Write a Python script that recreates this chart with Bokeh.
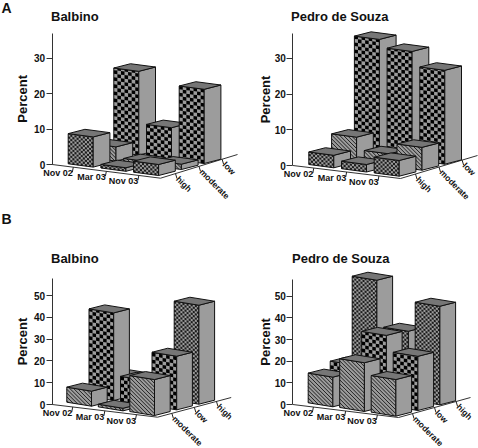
from bokeh.core.properties import value
from bokeh.embed import file_html
from bokeh.layouts import column, row
from bokeh.models import FixedTicker, LinearAxis, Range1d
from bokeh.plotting import figure
from bokeh.resources import INLINE

PERIODS = ["Nov 02", "Mar 03", "Nov 03"]
ROWS_A = ["high", "moderate", "low"]
ROWS_B = ["moderate", "low", "high"]

A_BALBINO_HIGH = [8.5, 1.0, 3.1]
A_BALBINO_MODERATE = [4.0, 1.0, 1.5]
A_BALBINO_LOW = [23.6, 8.9, 20.9]

A_PEDRO_HIGH = [3.5, 2.1, 4.4]
A_PEDRO_MODERATE = [6.9, 3.4, 6.4]
A_PEDRO_LOW = [32.6, 30.4, 26.3]

B_BALBINO_MODERATE = [6.9, 1.2, 16.5]
B_BALBINO_LOW = [40.2, 11.4, 24.6]
B_BALBINO_HIGH = [8.0, 0.0, 45.4]

B_PEDRO_MODERATE = [13.7, 22.5, 16.9]
B_PEDRO_LOW = [16.6, 32.5, 25.0]
B_PEDRO_HIGH = [53.2, 31.8, 45.5]

FONT = "Liberation Sans"
FACE = "#9c9c9c"
TOP = "#767676"
FINE_DARK = "#1c1c1c"


def panel(box, title, title_xy, letter, axis_x, y0, scale, ticks, y_top,
          corner, end, base, t_vec, s_vec, w_vec, d_vec, rows, values, pct_x):
    X0, Y0, W, H = box

    def val(y):
        return (y0 - y) / scale

    p = figure(width=W, height=H, output_backend="svg", toolbar_location=None,
               x_axis_type=None, y_axis_type=None,
               x_range=Range1d(X0, X0 + W), y_range=Range1d(val(Y0 + H), val(Y0)),
               min_border=0, outline_line_color=None)
    p.grid.visible = False

    axis = LinearAxis(ticker=FixedTicker(ticks=ticks), bounds=(0, y_top),
                      fixed_location=axis_x)
    axis.major_label_text_font = FONT
    axis.major_label_text_font_style = "bold"
    axis.major_label_text_font_size = "10px"
    axis.major_label_text_color = "#111111"
    axis.major_tick_out = 6
    axis.major_tick_in = 0
    axis.minor_tick_out = 0
    axis.minor_tick_in = 0
    axis.major_label_standoff = 1
    axis.axis_line_color = "#333333"
    axis.major_tick_line_color = "#333333"
    p.add_layout(axis, "left")

    def txt(x, y, s, size, align="left", baseline="middle", angle=0.0):
        p.text([x], [val(y)], text=[s], text_font=value(FONT), text_font_style="bold",
               text_font_size=size, text_align=align, text_baseline=baseline,
               angle=angle, text_color="#111111")

    txt(title_xy[0], title_xy[1], title, "13px")
    txt(pct_x, (y0 + val_to_y(y_top, y0, scale)) / 2, "Percent", "13px", "center", "middle", 1.5708)
    if letter:
        txt(letter[1], letter[2], letter[0], "14px")

    # floor edges
    p.line([axis_x, corner[0], end[0]], [0, val(corner[1]), val(end[1])],
           line_color="#333333", line_width=1)

    fracs = [0.195, 0.5, 0.8]
    for f, lab in zip(fracs, PERIODS):
        fx = axis_x + f * (corner[0] - axis_x)
        fy = y0 + f * (corner[1] - y0)
        p.line([fx, fx - 1], [val(fy), val(fy + 5)], line_color="#222222", line_width=1)
        txt(fx - 0.5, fy + 6.0, lab, "9px", "right", "middle")
    for f, lab in zip(fracs, rows):
        fx = corner[0] + f * (end[0] - corner[0])
        fy = corner[1] + f * (end[1] - corner[1])
        p.line([fx, fx + 1.5], [val(fy), val(fy + 5)], line_color="#222222", line_width=1)
        txt(fx + 2, fy + 4, lab, "8.5px", "left", "middle", -0.785)

    # bars, back row first, earlier period first
    for j in (2, 1, 0):
        kind = rows[j]
        for i in range(3):
            v = values[j][i]
            if v <= 0:
                continue
            bx = base[0] + i * t_vec[0] + j * s_vec[0]
            by = base[1] + i * t_vec[1] + j * s_vec[1]
            h = v * scale
            wx, wy = w_vec
            dx, dy = d_vec

            def poly(pts, fill, line="#111111", lw=1):
                p.patch([a for a, _ in pts], [val(b) for _, b in pts], fill_color=fill,
                        line_color=line, line_width=lw)

            front = [(bx, by), (bx + wx, by + wy), (bx + wx, by + wy - h), (bx, by - h)]
            poly(front, FACE, None, 0)

            if kind in ("low", "high"):
                cols = 7 if kind == "low" else 12
                cell_h = 3.55 if kind == "low" else 2.1
                dark = "#000000" if kind == "low" else FINE_DARK
                nrows = int(h / cell_h + 0.999)
                xs, ys = [], []
                for r in range(nrows):
                    t0 = r * cell_h
                    t1 = min(h, t0 + cell_h)
                    for c in range(cols):
                        if (r + c) % 2:
                            continue
                        u0, u1 = c / cols, (c + 1) / cols
                        ptsx = [bx + u0 * wx, bx + u1 * wx, bx + u1 * wx, bx + u0 * wx]
                        ptsy = [by + u0 * wy - t0, by + u1 * wy - t0, by + u1 * wy - t1, by + u0 * wy - t1]
                        xs.append(ptsx)
                        ys.append([val(q) for q in ptsy])
                p.patches(xs, ys, fill_color=dark, line_color=None)
            else:
                k = wx - wy
                gap = 3.8
                xs, ys = [], []
                c = -k
                while c < h:
                    u0 = max(0.0, -c / k)
                    u1 = min(1.0, (h - c) / k)
                    if u1 > u0:
                        t0, t1 = c + k * u0, c + k * u1
                        xs.append([bx + u0 * wx, bx + u1 * wx])
                        ys.append([val(by - h + u0 * wy + t0), val(by - h + u1 * wy + t1)])
                    c += gap
                p.multi_line(xs, ys, line_color="#222222", line_width=1.0)

            poly(front, None)
            poly([(bx + wx, by + wy), (bx + wx + dx, by + wy + dy),
                  (bx + wx + dx, by + wy + dy - h), (bx + wx, by + wy - h)], FACE)
            poly([(bx, by - h), (bx + wx, by + wy - h),
                  (bx + wx + dx, by + wy + dy - h), (bx + dx, by + dy - h)], TOP)
    return p


def val_to_y(v, y0, scale):
    return y0 - v * scale


a1 = panel((0, 0, 240, 210), "Balbino", (50.5, 16), ("A", 1, 7), 51.7, 164, 3.55,
           [0, 10, 20, 30], 37, (160, 177.7), (237, 154), (67.7, 163.3),
           (32.7, 4.2), (22.8, -6), (25, 3.3), (16.7, -4.3), ROWS_A,
           [A_BALBINO_HIGH, A_BALBINO_MODERATE, A_BALBINO_LOW], 22)
a2 = panel((240, 0, 238, 210), "Pedro de Souza", (290.5, 16), None, 292.3, 165, 3.57,
           [0, 10, 20, 30], 37, (400, 178), (477, 155), (308.3, 164),
           (32.7, 4.2), (22.8, -6), (25, 3.3), (16.7, -4.3), ROWS_A,
           [A_PEDRO_HIGH, A_PEDRO_MODERATE, A_PEDRO_LOW], 265)
b1 = panel((0, 210, 240, 238), "Balbino", (50.5, 258), ("B", 1, 218), 51.7, 404, 2.18,
           [0, 10, 20, 30, 40, 50], 57.8, (157, 416.7), (230.7, 397), (66.3, 401.7),
           (31.5, 4.67), (22.2, -5.67), (24.7, 4), (15.7, -4), ROWS_B,
           [B_BALBINO_MODERATE, B_BALBINO_LOW, B_BALBINO_HIGH], 22)
b2 = panel((240, 210, 238, 238), "Pedro de Souza", (291.5, 258), None, 292.3, 404, 2.166,
           [0, 10, 20, 30, 40, 50], 57.8, (398, 417), (470, 397), (307.7, 402.3),
           (31.5, 4.67), (22, -5.67), (24.7, 4), (15.7, -4), ROWS_B,
           [B_PEDRO_MODERATE, B_PEDRO_LOW, B_PEDRO_HIGH], 265)

layout = column(row(a1, a2), row(b1, b2))
open("out.html", "w").write(file_html(layout, INLINE))
